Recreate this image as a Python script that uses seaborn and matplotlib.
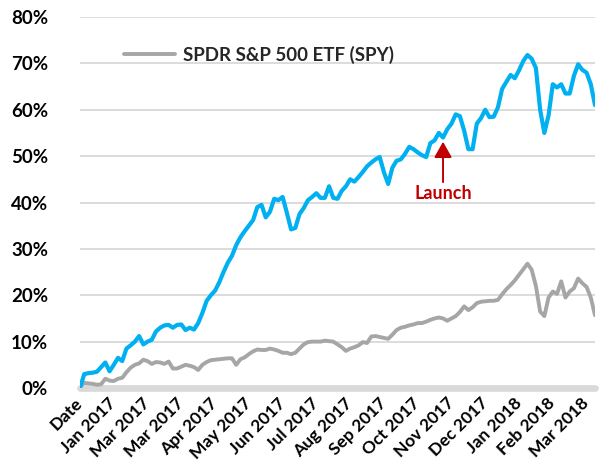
import numpy as np
import pandas as pd
import matplotlib.pyplot as plt
import seaborn as sns

# cumulative return (%), one value every ~2.5 trading days
fund_pct = [0.0, 3.0, 3.2, 3.3, 3.5, 4.5, 5.5, 3.6, 5.0, 6.5,
            5.8, 8.5, 9.2, 10.0, 11.2, 9.4, 10.0, 10.4, 12.2, 13.0,
            13.5, 13.6, 13.0, 13.6, 13.7, 12.5, 13.0, 12.6, 14.0, 16.2,
            18.8, 20.0, 21.0, 22.8, 25.0, 27.0, 28.5, 30.8, 32.5, 33.8,
            35.0, 36.2, 39.0, 39.5, 36.8, 38.0, 40.8, 40.5, 41.2, 37.8,
            34.2, 34.5, 37.5, 38.8, 40.5, 41.2, 42.0, 41.0, 41.0, 43.5,
            41.0, 40.8, 42.5, 43.5, 45.0, 44.5, 45.5, 46.6, 47.8, 48.6,
            49.3, 49.8, 46.5, 44.0, 47.5, 49.0, 49.3, 50.5, 52.0, 51.5,
            50.8, 50.2, 49.8, 52.8, 53.4, 55.0, 54.0, 55.8, 57.0, 59.0,
            58.6, 55.5, 51.5, 51.5, 57.0, 58.2, 60.0, 58.4, 58.5, 60.5,
            64.5, 66.0, 67.5, 66.8, 68.5, 70.5, 71.8, 71.0, 69.0, 60.0,
            55.0, 58.8, 65.5, 64.8, 65.5, 63.5, 63.5, 67.3, 69.8, 68.6,
            68.0, 65.5, 61.0]

spy_pct = [0.3, 1.1, 1.0, 0.9, 0.7, 0.8, 2.0, 1.6, 1.5, 2.0,
           2.2, 3.4, 4.4, 5.0, 5.3, 6.1, 5.8, 5.2, 5.6, 5.5,
           5.2, 5.7, 4.2, 4.2, 4.6, 5.0, 4.8, 4.5, 3.9, 5.0,
           5.6, 6.0, 6.1, 6.2, 6.3, 6.4, 6.4, 5.0, 6.2, 6.6,
           7.3, 7.9, 8.3, 8.2, 8.2, 8.5, 8.3, 8.0, 7.6, 7.6,
           7.3, 7.6, 8.5, 9.4, 9.9, 10.0, 10.0, 10.0, 10.2, 10.1,
           10.0, 9.4, 8.8, 8.0, 8.5, 8.8, 9.2, 9.9, 9.7, 11.1,
           11.2, 11.0, 10.8, 10.6, 11.5, 12.5, 13.0, 13.2, 13.5, 13.7,
           14.0, 14.0, 14.3, 14.7, 15.0, 15.2, 15.0, 14.5, 15.0, 15.5,
           16.4, 17.6, 16.8, 17.4, 18.3, 18.6, 18.7, 18.8, 18.8, 19.0,
           20.2, 21.3, 22.2, 23.2, 24.4, 25.6, 26.8, 25.5, 22.0, 16.5,
           15.5, 19.5, 20.8, 20.3, 23.0, 19.5, 20.8, 21.5, 23.6, 22.6,
           21.8, 19.5, 15.7]

month_labels = ["Date", "Jan 2017", "Mar 2017", "Mar 2017", "Apr 2017", "May 2017",
                "Jun 2017", "Jul 2017", "Aug 2017", "Sep 2017", "Oct 2017",
                "Nov 2017", "Dec 2017", "Jan 2018", "Feb 2018", "Mar 2018"]
label_every = 8
launch_idx = 86
launch_val = 53.1

df = pd.DataFrame({"step": np.arange(len(fund_pct)), "fund": fund_pct, "spy": spy_pct})

sns.set_theme(style="white")
plt.rcParams["font.family"] = ["Lato", "DejaVu Sans"]

fig = plt.figure(figsize=(6.02, 4.68), dpi=100)
ax = fig.add_axes([80 / 602, 1 - 388 / 468, 515 / 602, 371 / 468])

for v in range(10, 90, 10):
    ax.axhline(v, color="#D9D9D9", lw=1.3, zorder=0)
ax.axhline(0, color="#D9D9D9", lw=4.8, zorder=1, clip_on=False)

sns.lineplot(data=df, x="step", y="fund", color="#00B0F0", lw=3.0,
             legend=False, ax=ax, zorder=3)
sns.lineplot(data=df, x="step", y="spy", color="#A6A6A6", lw=2.8,
             label="SPDR S&P 500 ETF (SPY)", ax=ax, zorder=2)

ax.set_xlim(0, len(fund_pct) - 1)
ax.set_ylim(0, 80)
ax.set_yticks(range(0, 90, 10))
ax.set_yticklabels([f"{v}%" for v in range(0, 90, 10)], fontsize=13.5, fontweight="bold")
ax.set_xticks(np.arange(len(month_labels)) * label_every)
ax.set_xticklabels(month_labels, rotation=45, ha="right", va="center",
                   rotation_mode="anchor", fontsize=12.5, fontweight="bold")
ax.tick_params(axis="y", length=0, pad=23, colors="black")
ax.tick_params(axis="x", length=0, pad=9, colors="black")
ax.set_xlabel("")
ax.set_ylabel("")
for s in ax.spines.values():
    s.set_visible(False)

ax.legend(loc="center left", bbox_to_anchor=(0.085, 0.898), frameon=False,
          borderaxespad=0, borderpad=0, handlelength=2.72, handletextpad=0.43,
          prop={"weight": "bold", "size": 13.5})

red = "#C00000"
ax.annotate("", xy=(launch_idx, launch_val), xytext=(launch_idx, 44.4),
            arrowprops=dict(arrowstyle="-|>,head_length=0.8,head_width=0.45",
                            mutation_scale=12, color=red, lw=1.4,
                            shrinkA=0, shrinkB=0))
ax.text(launch_idx, 43.8, "Launch", color=red, fontsize=13, fontweight="bold",
        ha="center", va="top")

fig.savefig("out.png", dpi=100)
